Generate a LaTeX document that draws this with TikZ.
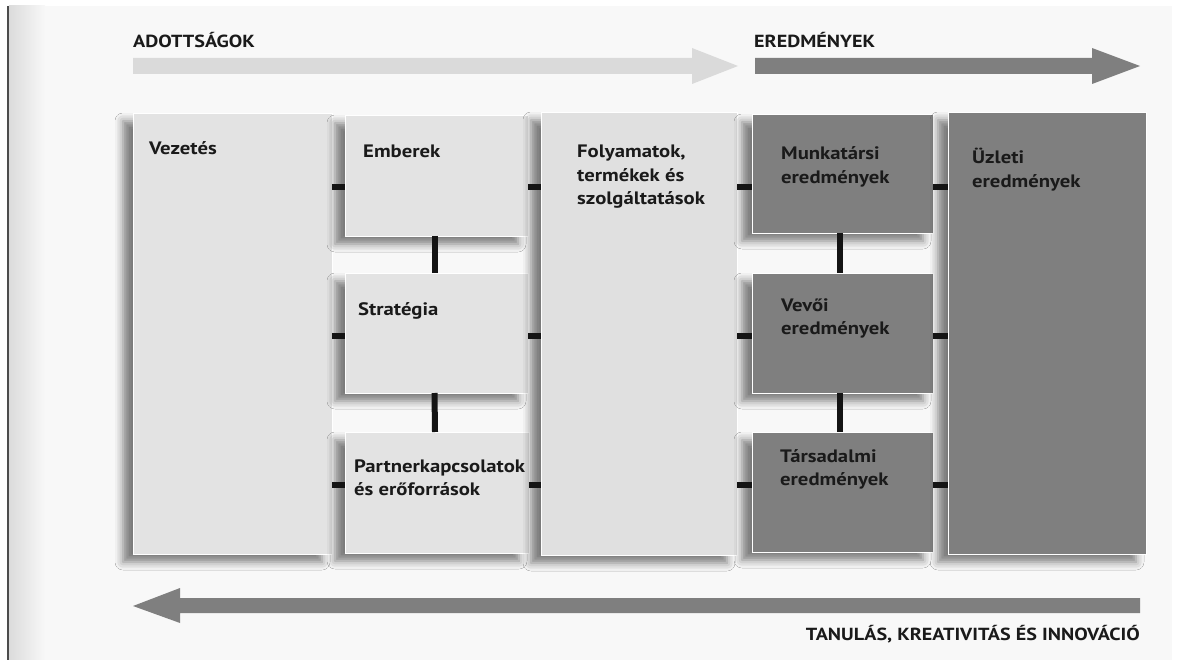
\documentclass[tikz,border=0pt]{standalone}
\usepackage{fontspec}
\setmainfont{PT Sans}[FakeStretch=1.15]
\usetikzlibrary{shadows.blur}
\definecolor{pagebg}{HTML}{F8F8F8}
\definecolor{boxlight}{HTML}{E3E3E3}
\definecolor{boxmid}{HTML}{E0E0E0}
\definecolor{boxdark}{HTML}{7F7F7F}
\definecolor{arrlight}{HTML}{DADADA}
\definecolor{arrdark}{HTML}{7F7F7F}
\definecolor{txt}{HTML}{1A1A1A}
\newcommand{\boxfont}{\fontsize{18}{23.5}\selectfont\bfseries}
\newcommand{\headfont}{\fontsize{17.5}{20}\selectfont\bfseries}
\tikzset{
  box/.style={rectangle, draw=white, line width=0.8pt, inner sep=0pt, outer sep=0pt,
    anchor=north west,
    blur shadow={shadow xshift=-10pt, shadow yshift=-8pt, shadow opacity=50, shadow blur radius=8pt}},
  lbox/.style={box, fill=boxlight},
  mbox/.style={box, fill=boxmid},
  dbox/.style={box, fill=boxdark},
  conn/.style={line width=6pt, draw=black!92},
  lab/.style={font=\boxfont, anchor=base west, inner sep=0pt, align=left, text=txt},
  head/.style={font=\headfont, anchor=base west, inner sep=0pt, text=txt},
}
\begin{document}
\begin{tikzpicture}[x=1pt,y=-1pt]
\useasboundingbox (0,0) rectangle (1198,660);
% page
\fill[white] (0,0) rectangle (1198,660);
\fill[pagebg] (8,6) rectangle (1172,660);
\shade[left color=black!14, right color=pagebg] (9,6) rectangle (45,660);
\draw[black!70, line width=1.6pt] (8,6) -- (8,660);

% top arrows
\fill[arrlight] (133,58) -- (692,58) -- (692,48) -- (738,66) -- (692,84) -- (692,74) -- (133,74) -- cycle;
\fill[arrdark] (755,58) -- (1092,58) -- (1092,48) -- (1140,66) -- (1092,84) -- (1092,74) -- (755,74) -- cycle;
\node[head] (adott) at (133,48) {ADOTTSÁGOK};
\node[head] (eredm) at (754,48) {EREDMÉNYEK};

% bottom arrow
\fill[arrdark] (1140,598) -- (180,598) -- (180,588) -- (133,606) -- (180,623) -- (180,613) -- (1140,613) -- cycle;
\node[head, anchor=base east] (tanul) at (1140,640) {TANULÁS, KREATIVITÁS ÉS INNOVÁCIÓ};

% boxes
\node[lbox, minimum width=199pt, minimum height=441pt] (vez) at (133,113) {};
\node[lbox, minimum width=183pt, minimum height=121pt] (emb) at (345,115) {};
\node[lbox, minimum width=183pt, minimum height=120pt] (str) at (345,273) {};
\node[lbox, minimum width=184pt, minimum height=121pt] (par) at (345,432) {};
\node[mbox, minimum width=196pt, minimum height=443pt] (fol) at (541,112) {};
\node[dbox, minimum width=181pt, minimum height=119pt] (mun) at (752,114) {};
\node[dbox, minimum width=181pt, minimum height=120pt] (vev) at (752,273) {};
\node[dbox, minimum width=181pt, minimum height=120pt] (tar) at (752,432) {};
\node[dbox, minimum width=198pt, minimum height=442pt] (uzl) at (948,112) {};

% rows
\coordinate (r1) at (0,187);
\coordinate (r2) at (0,336);
\coordinate (r3) at (0,485);

% horizontal connectors
\foreach \a/\b in {vez/emb, emb/fol, fol/mun, mun/uzl}
  \draw[conn] (\a.east |- r1) -- (\b.west |- r1);
\foreach \a/\b in {vez/str, str/fol, fol/vev, vev/uzl}
  \draw[conn] (\a.east |- r2) -- (\b.west |- r2);
\foreach \a/\b in {vez/par, par/fol, fol/tar, tar/uzl}
  \draw[conn] (\a.east |- r3) -- (\b.west |- r3);

% vertical connectors
\draw[conn] ([xshift=-2pt]emb.south) -- ([xshift=-2pt]str.north);
\draw[conn] ([xshift=-2pt]str.south) -- ([xshift=-2pt]par.north);
\draw[conn] ([xshift=-3pt]mun.south) -- ([xshift=-3pt]vev.north);
\draw[conn] ([xshift=-3pt]vev.south) -- ([xshift=-3pt]tar.north);

% labels (base anchor = baseline of the last line)
\node[lab] (lvez) at (149,155) {Vezetés};
\node[lab] (lemb) at (363,158) {Emberek};
\node[lab] (lstr) at (358,315) {Stratégia};
\node[lab] (lpar) at (354,495.5) {Partnerkapcsolatok\\és erőforrások};
\node[lab] (lfol) at (577,205) {Folyamatok,\\termékek és\\szolgáltatások};
\node[lab] (lmun) at (781,183.5) {Munkatársi\\eredmények};
\node[lab] (lvev) at (781,334.5) {Vevői\\eredmények};
\node[lab] (ltar) at (780,485.5) {Társadalmi\\eredmények};
\node[lab] (luzl) at (972,187.5) {Üzleti\\eredmények};
\end{tikzpicture}
\end{document}
